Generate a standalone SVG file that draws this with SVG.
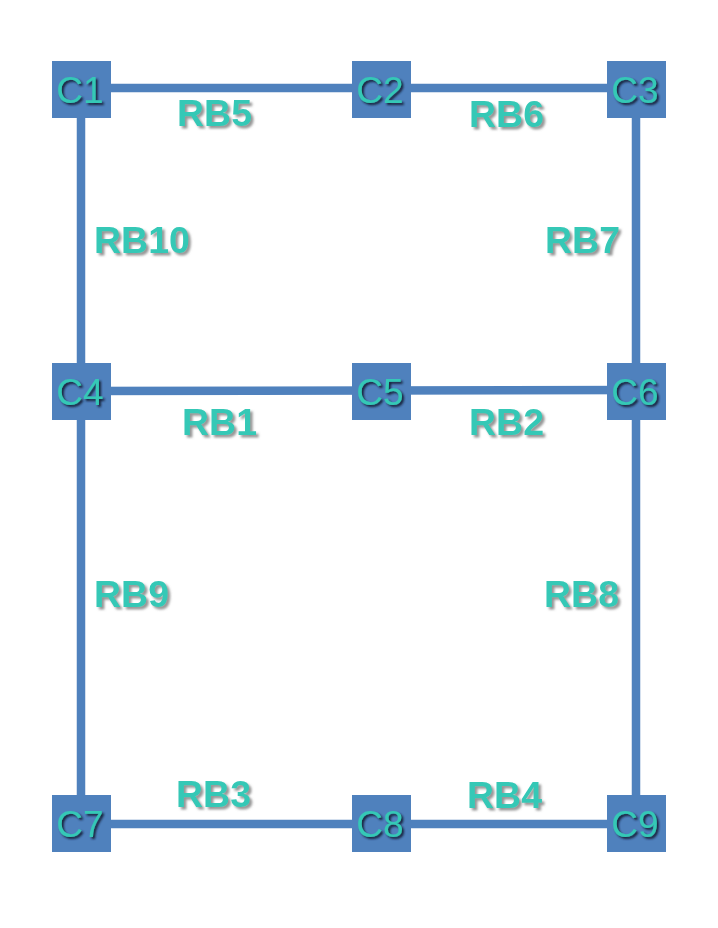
<svg xmlns="http://www.w3.org/2000/svg" width="718" height="928" viewBox="0 0 718 928">
<defs>
<filter id="sh" x="-20%" y="-20%" width="150%" height="150%"><feDropShadow dx="2.5" dy="2.5" stdDeviation="1" flood-color="#8a8a8a" flood-opacity="0.9"/></filter>
<filter id="shc" x="-20%" y="-20%" width="150%" height="150%"><feDropShadow dx="2" dy="2" stdDeviation="0.8" flood-color="#14243a" flood-opacity="1"/></filter>
</defs>
<style>
.box{fill:#4F81BD}
.ln{stroke:#4F81BD;stroke-width:8.5;fill:none}
.cl{font-family:"Liberation Sans",Arial,sans-serif;font-size:37px;fill:#34C8B6;text-anchor:middle;filter:url(#shc)}
.rb{font-family:"Liberation Sans",Arial,sans-serif;font-size:37.5px;font-weight:bold;fill:#34C8B6;filter:url(#sh)}
</style>
<rect width="718" height="928" fill="#ffffff"/>
<g id="connectors">
<line class="ln" x1="81" y1="88" x2="636" y2="88"/>
<line class="ln" x1="81" y1="391" x2="381" y2="390.5"/>
<line class="ln" x1="381" y1="390.5" x2="636" y2="390"/>
<line class="ln" x1="81" y1="824" x2="636" y2="824"/>
<line class="ln" x1="81" y1="88" x2="81" y2="824"/>
<line class="ln" x1="636" y1="88" x2="636" y2="824"/>
</g>
<g id="C1"><rect class="box" x="52" y="61" width="59" height="57"/><text class="cl" x="80" y="103">C1</text></g>
<g id="C2"><rect class="box" x="352" y="61" width="59" height="57"/><text class="cl" x="380" y="103">C2</text></g>
<g id="C3"><rect class="box" x="607" y="61" width="59" height="57"/><text class="cl" x="635" y="103">C3</text></g>
<g id="C4"><rect class="box" x="52" y="363" width="59" height="57"/><text class="cl" x="80" y="405">C4</text></g>
<g id="C5"><rect class="box" x="352" y="363" width="59" height="57"/><text class="cl" x="380" y="405">C5</text></g>
<g id="C6"><rect class="box" x="607" y="363" width="59" height="57"/><text class="cl" x="635" y="405">C6</text></g>
<g id="C7"><rect class="box" x="52" y="795" width="59" height="57"/><text class="cl" x="80" y="837">C7</text></g>
<g id="C8"><rect class="box" x="352" y="795" width="59" height="57"/><text class="cl" x="380" y="837">C8</text></g>
<g id="C9"><rect class="box" x="607" y="795" width="59" height="57"/><text class="cl" x="635" y="837">C9</text></g>
<g id="labels">
<text class="rb" x="177" y="126">RB5</text>
<text class="rb" x="469" y="127">RB6</text>
<text class="rb" x="94" y="253">RB10</text>
<text class="rb" x="545" y="253">RB7</text>
<text class="rb" x="182" y="435">RB1</text>
<text class="rb" x="469" y="435">RB2</text>
<text class="rb" x="94" y="607">RB9</text>
<text class="rb" x="544" y="607">RB8</text>
<text class="rb" x="176" y="807">RB3</text>
<text class="rb" x="467" y="808">RB4</text>
</g>
</svg>
